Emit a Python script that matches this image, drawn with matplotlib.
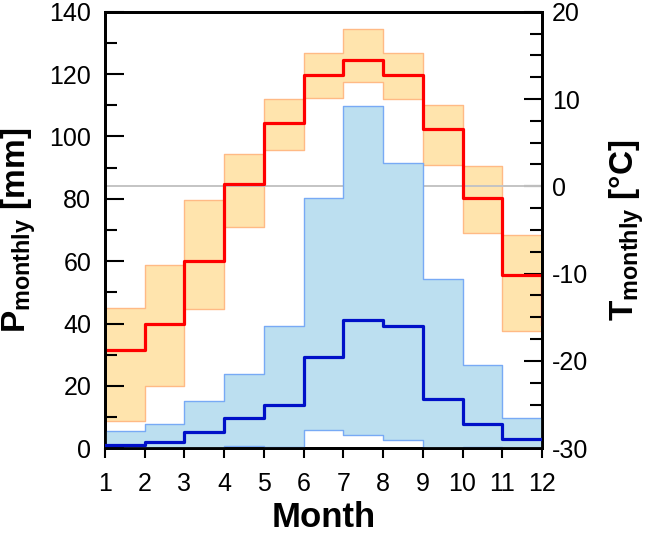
import matplotlib.pyplot as plt
from matplotlib.ticker import MultipleLocator

plt.rcParams['font.family'] = 'Liberation Sans'
plt.rcParams['mathtext.fontset'] = 'custom'
plt.rcParams['mathtext.rm'] = 'Liberation Sans:bold'
plt.rcParams['mathtext.bf'] = 'Liberation Sans:bold'
plt.rcParams['axes.unicode_minus'] = False

# monthly climate data (month 1..12, step 'post')
month = [1, 2, 3, 4, 5, 6, 7, 8, 9, 10, 11, 12]

# precipitation [mm]
p_median = [1.1, 1.9, 5.1, 9.8, 13.9, 29.4, 41.2, 39.3, 15.8, 7.8, 3.0, 3.0]
p_low = [0.0, 0.0, 0.0, 0.6, 0.4, 5.9, 4.3, 2.7, 0.0, 0.3, 0.0, 0.0]
p_high = [5.6, 7.7, 15.2, 23.7, 39.2, 80.4, 109.6, 91.4, 54.2, 26.6, 9.8, 9.8]

# temperature [degC]
t_mean = [-18.7, -15.8, -8.5, 0.3, 7.3, 12.8, 14.5, 12.8, 6.6, -1.3, -10.2, -15.8]
t_low = [-26.9, -22.9, -14.1, -4.7, 4.2, 10.1, 12.0, 10.0, 2.4, -5.4, -16.6, -16.6]
t_high = [-13.9, -9.0, -1.6, 3.7, 10.0, 15.3, 18.0, 15.3, 9.3, 2.3, -5.6, -5.6]

fig = plt.figure(figsize=(6.54, 5.38), dpi=100)
ax = fig.add_axes([0.1606, 0.1667, 0.6681, 0.8116])
ax2 = ax.twinx()

# precipitation band + median
ax.fill_between(month, p_low, p_high, step='post', facecolor='#bcdff0',
                edgecolor='#78aaf5', linewidth=1.0, zorder=1)
ax.plot(month, p_median, drawstyle='steps-post', color='#0010c8', lw=2.3, zorder=3)

# temperature band + mean
ax2.fill_between(month, t_low, t_high, step='post', facecolor='#ffe4ad',
                 edgecolor='#ffba85', linewidth=1.0, zorder=1)
ax2.axhline(0, color='#c4c4c4', lw=1.4, zorder=2)
ax2.plot(month, t_mean, drawstyle='steps-post', color='#ff0000', lw=2.3, zorder=3)

ax.set_xlim(1, 12)
ax.set_ylim(0, 140)
ax2.set_ylim(-30, 20)
ax.set_xticks(month)
ax.yaxis.set_major_locator(MultipleLocator(20))
ax.yaxis.set_minor_locator(MultipleLocator(10))
ax2.yaxis.set_major_locator(MultipleLocator(10))
ax2.yaxis.set_minor_locator(MultipleLocator(2.5))

ax.tick_params(axis='x', direction='out', length=7, width=1.5, labelsize=18, pad=10)
ax.tick_params(axis='y', which='major', direction='in', length=14, width=1.5,
               labelsize=18, pad=10)
ax.tick_params(axis='y', which='minor', direction='in', length=8.5, width=1.5)
ax2.tick_params(axis='y', which='major', direction='in', length=13, width=1.5,
                labelsize=18, pad=7)
ax2.tick_params(axis='y', which='minor', direction='in', length=8.5, width=1.5)

for a in (ax, ax2):
    for s in a.spines.values():
        s.set_linewidth(2)

ax.set_xlabel('Month', fontsize=25, fontweight='bold', labelpad=4)
ax.set_ylabel(r'$\mathbf{P_{monthly}}$ [mm]', fontsize=24, fontweight='bold', labelpad=8)
ax2.set_ylabel(r'$\mathbf{T_{monthly}}$ [°C]', fontsize=24, fontweight='bold', labelpad=14)

ax.set_zorder(ax2.get_zorder() + 1)
ax.patch.set_visible(False)

fig.savefig('out.png', dpi=100)
